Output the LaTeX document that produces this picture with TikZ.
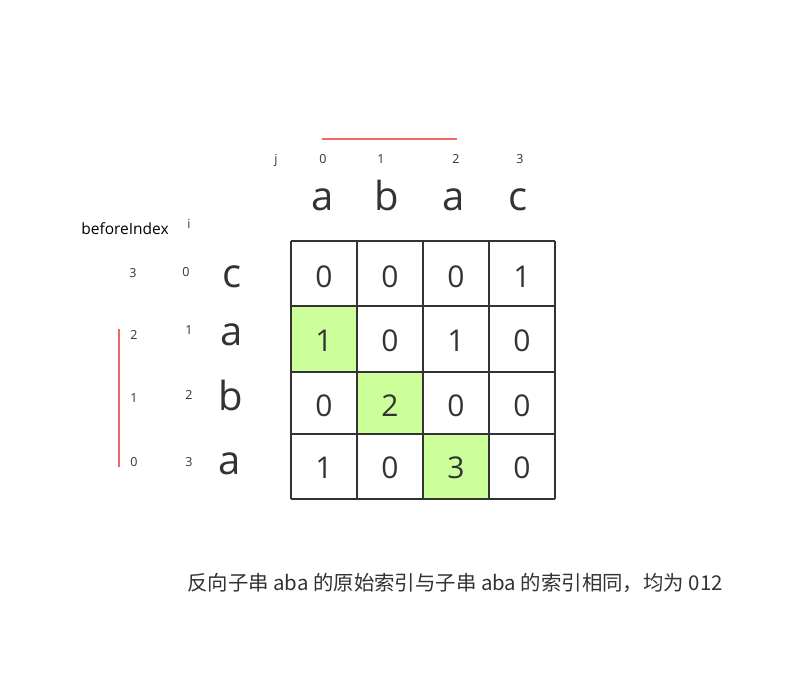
\documentclass[tikz,border=0pt]{standalone}
\usepackage{fontspec}
\setmainfont{Open Sans}
\newfontfamily\cjk{Noto Sans CJK SC}
\definecolor{ink}{HTML}{333333}
\definecolor{redline}{HTML}{EE6666}
\definecolor{hl}{HTML}{CCFF99}
\begin{document}
\begin{tikzpicture}[x=1pt,y=-1pt,
  small/.style={font=\fontsize{12.5}{14}\selectfont, text=ink, inner sep=0pt, anchor=base},
  letter/.style={font=\fontsize{40}{46}\selectfont, text=ink, inner sep=0pt, anchor=base},
  cellnum/.style={font=\fontsize{30}{36}\selectfont, text=ink, inner sep=0pt, anchor=base},
  gridline/.style={draw=ink, line width=1.8pt},
  redmark/.style={draw=redline, line width=1.6pt}]
\useasboundingbox[fill=white] (0,0) rectangle (795,683);
% highlighted cells
\fill[hl] (291,306) rectangle (357,372);
\fill[hl] (357,372) rectangle (423,434);
\fill[hl] (423,434) rectangle (489,499);
% grid
\foreach \x in {291,357,423,489,555} \draw[gridline] (\x,241) -- (\x,499);
\foreach \y in {241,306,372,434,499} \draw[gridline] (291,\y) -- (555,\y);
% cell numbers
\foreach \v [count=\c from 0] in {0,0,0,1} \node[cellnum] (r0c\c) at (324+66*\c,287) {\v};
\foreach \v [count=\c from 0] in {1,0,1,0} \node[cellnum] (r1c\c) at (324+66*\c,351) {\v};
\foreach \v [count=\c from 0] in {0,2,0,0} \node[cellnum] (r2c\c) at (324+66*\c,416) {\v};
\foreach \v [count=\c from 0] in {1,0,3,0} \node[cellnum] (r3c\c) at (324+66*\c,478) {\v};
% top labels
\node[small] (jl) at (276,163) {j};
\node[small] (j0) at (323,163) {0};
\node[small] (j1) at (381,163) {1};
\node[small] (j2) at (456,163) {2};
\node[small] (j3) at (520,163) {3};
\node[letter] (ta) at (323,210) {a};
\node[letter] (tb) at (387,210) {b};
\node[letter] (ta2) at (454,210) {a};
\node[letter] (tc) at (518,210) {c};
% left labels
\node[small, font=\fontsize{15.5}{17}\selectfont, text=black] (bi) at (125,234) {beforeIndex};
\node[small] (il) at (189,228) {i};
\node[small] (b3) at (133,277) {3};
\node[small] (b2) at (134,339) {2};
\node[small] (b1) at (134,402) {1};
\node[small] (b0) at (134,466) {0};
\node[small] (i0) at (186,276) {0};
\node[small] (i1) at (189,334) {1};
\node[small] (i2) at (189,399) {2};
\node[small] (i3) at (189,466) {3};
\node[letter] (lc) at (232,287) {c};
\node[letter] (la) at (232,345) {a};
\node[letter] (lb) at (231,410) {b};
\node[letter] (la2) at (230,474) {a};
% red marks
\coordinate (h1) at (322,139); \coordinate (h2) at (457,139);
\draw[redmark] (h1) -- (h2);
\coordinate (v1) at (119,329); \coordinate (v2) at (119,467);
\draw[redmark] (v1) -- (v2);
% caption
\node[font=\cjk\fontsize{20.4}{24}\selectfont, text=ink, inner sep=0pt, anchor=base] (cap) at (455,590) {反向子串 aba 的原始索引与子串 aba 的索引相同，均为 012};
\end{tikzpicture}
\end{document}
